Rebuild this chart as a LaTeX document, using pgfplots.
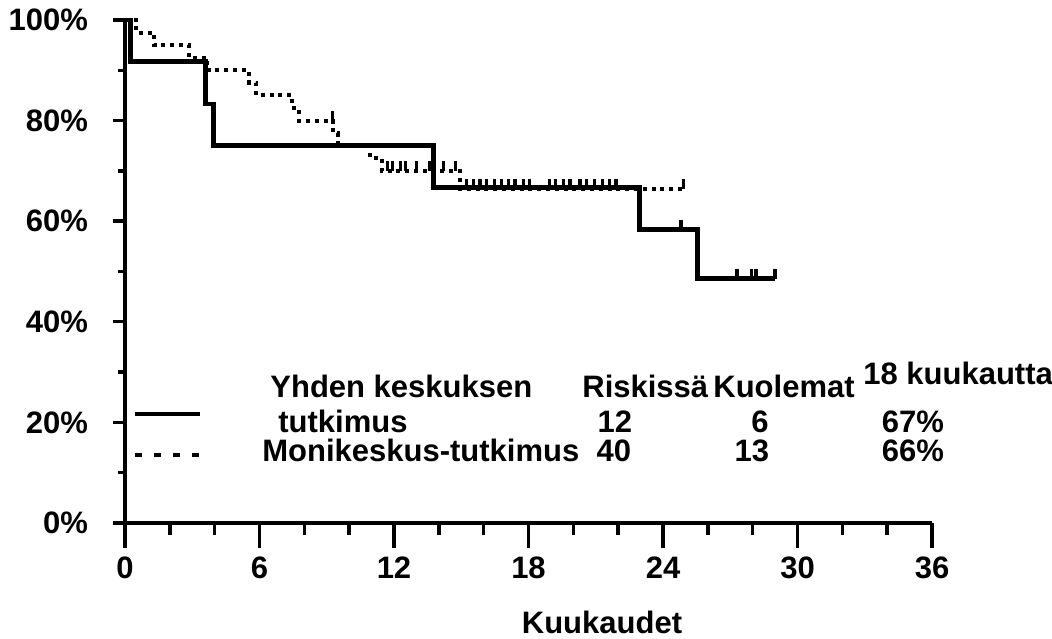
\documentclass[border=0pt]{standalone}
\usepackage{fontspec}
\setmainfont{Liberation Sans}
\usepackage{pgfplots}
\pgfplotsset{compat=1.18}

% upward censor tick
\pgfdeclareplotmark{cens}{%
  \pgfpathmoveto{\pgfqpoint{0pt}{0pt}}%
  \pgfpathlineto{\pgfqpoint{0pt}{\pgfplotmarksize}}%
  \pgfusepathqstroke}

\pgfplotsset{
  kmbase/.style={
    width=403.5bp, height=251.5bp, scale only axis,
    at={(0,0)}, anchor=south west,
    xmin=0, xmax=36, ymin=0, ymax=100,
    tick align=outside,
    axis line style={line width=2.4bp, black},
    every tick/.style={line width=1.7bp, black},
    tick label style={font=\fontsize{15.5bp}{17bp}\selectfont\bfseries, black},
    /pgf/number format/assume math mode=true,
  },
  solidkm/.style={black, line width=2.4bp, const plot, mark=none},
  dotkm/.style={black, line width=2bp, dash pattern=on 2bp off 2.4bp, const plot, mark=none},
  censmark/.style={only marks, mark=cens, mark size=5bp, black, mark options={line width=1.8bp, solid}},
}

\begin{document}
\begin{tikzpicture}
\useasboundingbox (-62.5bp,-58bp) rectangle (463.5bp,261.5bp);

% x axis
\begin{axis}[kmbase,
  axis x line*=bottom, axis y line=none,
  xtick={0,6,...,36}, minor x tick num=2,
  major tick length=12.5bp, minor tick length=6bp,
  xticklabel style={yshift=-1bp},
]
\end{axis}

% y axis and curves
\begin{axis}[kmbase,
  axis y line*=left, axis x line=none,
  ytick={0,20,...,100}, minor y tick num=1,
  major tick length=6bp, minor tick length=3.5bp,
  yticklabel={\pgfmathprintnumber{\tick}\%},
  yticklabel style={xshift=-9bp},
  clip=false,
]
% yhden keskuksen tutkimus
\addplot[solidkm] coordinates {
  (0,100) (0.25,91.7) (3.6,83.3) (3.95,75) (13.75,66.7)
  (22.95,58.3) (25.55,48.6) (29,48.6)
};
\addplot[censmark] coordinates {
  (24.8,58.3) (27.3,48.6) (27.95,48.6) (28.15,48.6) (29,48.6)
};
% monikeskus-tutkimus
\addplot[dotkm] coordinates {
  (0,100) (0.5,97.5) (1.3,95) (2.85,92.5) (3.65,90) (5.55,87.5)
  (5.85,85) (7.45,82.5) (7.75,80) (9.3,77.5) (9.5,75) (10.95,72.5)
  (11.45,70) (14.95,66.5) (24.9,66.5)
};
\addplot[censmark, mark options={line width=1.6bp}] coordinates {
  (9.25,80) (11.7,70) (11.95,70) (12.3,70) (12.5,70) (13.0,70)
  (13.6,70) (14.2,70) (14.75,70)
  (15.24,66.5) (15.54,66.5) (15.84,66.5) (16.13,66.5) (16.5,66.5)
  (16.8,66.5) (17.1,66.5) (17.4,66.5) (17.76,66.5) (18.06,66.5)
  (18.95,66.5) (19.2,66.5) (19.55,66.5) (19.85,66.5) (20.3,66.5)
  (20.6,66.5) (20.96,66.5) (21.3,66.5) (21.6,66.5) (21.9,66.5)
  (24.9,66.5)
};
% legend samples
\addplot[black, line width=2.2bp] coordinates {(0.45,21.7) (3.35,21.7)};
\addplot[black, line width=2bp, dash pattern=on 3.5bp off 6bp] coordinates {(0.45,13.5) (3.6,13.5)};
\end{axis}

% texts, placed in reference pixel units
\begin{scope}[xshift=-62.5bp, yshift=261.5bp, x=0.5bp, y=-0.5bp,
  every node/.style={inner sep=0pt, font=\fontsize{15.5bp}{18bp}\selectfont\bfseries}]
\node[anchor=base west] at (270,398) {Yhden keskuksen};
\node[anchor=base west] at (278,433) {tutkimus};
\node[anchor=base west] at (262,462) {Monikeskus-tutkimus};
\node[anchor=base west] at (582,398) {Riskissä};
\node[anchor=base west] at (713,398) {Kuolemat};
\node[anchor=base west] at (863,385) {18 kuukautta};
\node[anchor=base] at (615,433) {12};
\node[anchor=base] at (760,433) {6};
\node[anchor=base] at (913,433) {67\%};
\node[anchor=base] at (614,462) {40};
\node[anchor=base] at (752,462) {13};
\node[anchor=base] at (913,462) {66\%};
\node[anchor=base] at (602,634) {Kuukaudet};
\end{scope}
\end{tikzpicture}
\end{document}
